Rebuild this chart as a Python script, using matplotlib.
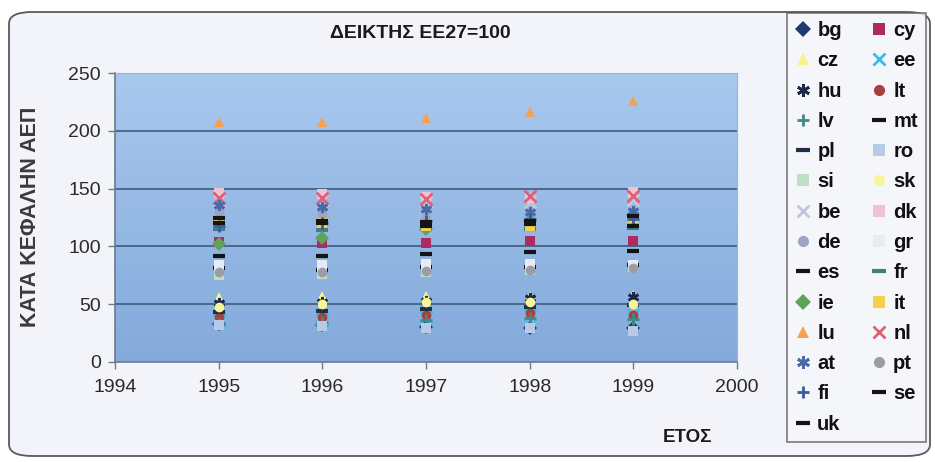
import numpy as np
import matplotlib
matplotlib.use("Agg")
import matplotlib.pyplot as plt
from matplotlib.patches import FancyBboxPatch
from matplotlib.colors import LinearSegmentedColormap

plt.rcParams['font.family'] = ['Liberation Sans', 'DejaVu Sans']

years = [1995, 1996, 1997, 1998, 1999]
countries = ["bg", "cy", "cz", "ee", "hu", "lt", "lv", "mt", "pl", "ro", "si", "sk",
             "be", "dk", "de", "gr", "es", "fr", "ie", "it", "lu", "nl", "at", "pt",
             "fi", "se", "uk"]

bg = [33, 32, 30, 29, 29]
cy = [104, 103, 103, 105, 105]
cz = [56, 57, 57, 57, 58]
ee = [36, 37, 39, 41, 41]
hu = [51, 52, 53, 55, 56]
lt = [39, 39, 41, 42, 41]
lv = [33, 35, 36, 38, 37]
mt = [81, 80, 82, 82, 84]
pl = [43, 44, 46, 48, 49]
ro = [32, 31, 29, 29, 27]
si = [75, 76, 78, 80, 82]
sk = [48, 50, 52, 52, 50]
be = [140, 140, 138, 138, 140]
dk = [146, 145, 143, 142, 147]
de = [130, 128, 125, 124, 123]
gr = [84, 84, 85, 85, 84]
es = [92, 92, 93, 95, 96]
fr = [115, 114, 115, 115, 116]
ie = [102, 107, 115, 122, 127]
it = [120, 120, 118, 118, 125]
lu = [208, 208, 211, 216, 226]
nl = [142, 142, 141, 144, 144]
at = [136, 134, 132, 130, 131]
pt = [78, 78, 79, 80, 81]
fi = [118, 120, 122, 124, 124]
se = [125, 122, 121, 122, 126]
uk = [120, 120, 118, 119, 118]

values = [bg, cy, cz, ee, hu, lt, lv, mt, pl, ro, si, sk, be, dk, de, gr, es, fr,
          ie, it, lu, nl, at, pt, fi, se, uk]

star = (6, 2, 0)
styles = {
    "bg": ("D", "#1f3a6e"), "cy": ("s", "#b02a62"), "cz": ("^", "#f6f38a"),
    "ee": ("x", "#33bfe8"), "hu": (star, "#1c2a48"), "lt": ("o", "#a8403c"),
    "lv": ("+", "#3f8a86"), "mt": ("_", "#141414"), "pl": ("_", "#1e3048"),
    "ro": ("s", "#b7cbe8"), "si": ("s", "#bfe0c0"), "sk": ("o", "#f6f59a"),
    "be": ("x", "#c2c6dc"), "dk": ("s", "#eec3d3"), "de": ("o", "#9ea4c4"),
    "gr": ("s", "#e6ecf6"), "es": ("_", "#141414"), "fr": ("_", "#3f7f82"),
    "ie": ("D", "#5fa35a"), "it": ("s", "#f7d04a"), "lu": ("^", "#f8a050"),
    "nl": ("x", "#e06078"), "at": (star, "#4b6aa8"), "pt": ("o", "#9c9ca8"),
    "fi": ("+", "#3c5c9c"), "se": ("_", "#141414"), "uk": ("_", "#141414"),
}

W, H = 935, 462
fig = plt.figure(figsize=(W / 100, H / 100), dpi=100)
fig.patch.set_facecolor("white")

frame = FancyBboxPatch((9 / W, 6 / H), (921 / W), (444 / H),
                       boxstyle="round,pad=0,rounding_size=0.025",
                       transform=fig.transFigure, facecolor="#f3f4f9",
                       edgecolor="#5a5a5a", linewidth=1.3, zorder=-5)
fig.patches.append(frame)

L, R, B, T = 115, 737, 362, 73
ax = fig.add_axes([L / W, 1 - B / H, (R - L) / W, (B - T) / H])
ax.set_zorder(2)

grad = np.linspace(0, 1, 256).reshape(-1, 1)
cmap = LinearSegmentedColormap.from_list("g", ["#84aadb", "#a8c8ee"])
ax.imshow(grad, extent=[1994, 2000, 0, 250], origin="lower", aspect="auto",
          cmap=cmap, zorder=0)
ax.set_xlim(1994, 2000)
ax.set_ylim(0, 250)

ax.set_yticks([0, 50, 100, 150, 200, 250])
ax.set_xticks([1994, 1995, 1996, 1997, 1998, 1999, 2000])
for yv in [50, 100, 150, 200, 250]:
    ax.axhline(yv, color="#3e5a7c", lw=1.2, zorder=1)

for c, v in zip(countries, values):
    m, col = styles[c]
    kw = dict(marker=m, color=col, linestyle="none", zorder=3)
    if m == "_":
        kw.update(markersize=9, markeredgewidth=3)
    elif m in ("+", "x") or m == star:
        kw.update(markersize=8, markeredgewidth=2)
    else:
        kw.update(markersize=7, markeredgewidth=0)
    ax.plot(years, v, label=c, **kw)

for s in ["top", "right"]:
    ax.spines[s].set_color("#9cb4d4")
for s in ["left", "bottom"]:
    ax.spines[s].set_color("#6a7a8a")
    ax.spines[s].set_linewidth(1.2)
ax.tick_params(axis="both", colors="#6a7a8a", length=5, width=1,
               labelcolor="#2a2a2a", labelsize=14)
ax.tick_params(axis="x", pad=7)
ax.tick_params(axis="y", pad=5)

fig.text(420 / W, 1 - 33 / H, "ΔΕΙΚΤΗΣ ΕΕ27=100", ha="center", va="center",
         fontsize=14, fontweight="bold", color="#1a1a1a")
fig.text(30 / W, 1 - 217 / H, "ΚΑΤΑ ΚΕΦΑΛΗΝ ΑΕΠ", ha="center", va="center",
         rotation=90, fontsize=15.5, fontweight="bold", color="#3a3a3a")
fig.text(688 / W, 1 - 437 / H, "ΕΤΟΣ", ha="center", va="center",
         fontsize=13.5, fontweight="bold", color="#1a1a1a")

handles, labels = ax.get_legend_handles_labels()
order = list(range(0, len(handles), 2)) + list(range(1, len(handles), 2))
leg = fig.legend([handles[i] for i in order], [labels[i] for i in order],
                 loc="upper left", bbox_to_anchor=(787 / W, 1 - 13 / H),
                 ncol=2, frameon=True, fancybox=False,
                 prop={"size": 14.5, "weight": "bold"},
                 labelspacing=0.56, handlelength=0.8, handletextpad=0.3,
                 columnspacing=1.45, borderpad=0.4, borderaxespad=0,
                 markerscale=1.15)
leg.get_frame().set_edgecolor("#5a5a5a")
leg.get_frame().set_facecolor("#f6f7fb")
leg.get_frame().set_linewidth(1.2)
leg.set_zorder(5)
for t in leg.get_texts():
    t.set_color("#111111")

fig.savefig("out.png", dpi=100)
